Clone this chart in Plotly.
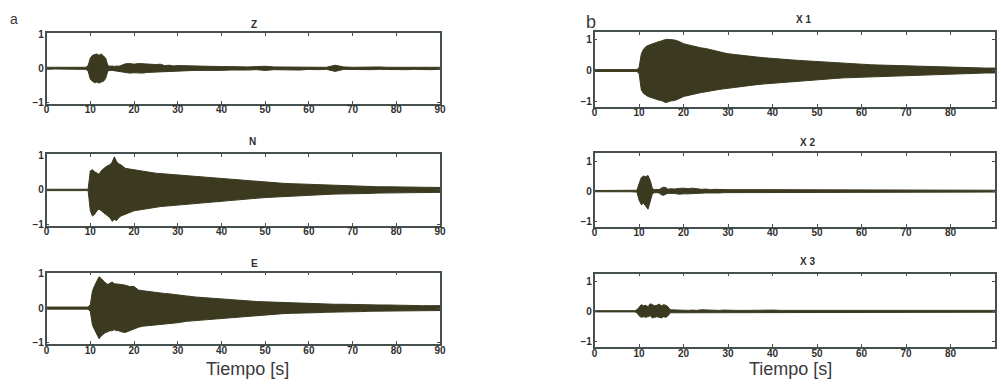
import plotly.graph_objects as go

# ---------------- data (envelopes) ----------------
time_s = [0, 2, 4, 6, 8,
          9, 9.5, 10, 10.5, 11,
          11.5, 12, 12.5, 13, 13.5,
          14, 14.5, 15, 15.5, 16,
          16.5, 17, 18, 19, 20,
          21, 22, 23, 24, 25,
          26, 27, 28, 29, 30,
          32, 34, 36, 38, 40,
          42, 44, 46, 48, 50,
          52, 54, 56, 58, 60,
          62, 64, 66, 68, 70,
          72, 74, 76, 78, 80,
          82, 84, 86, 88, 90]

z_top = [0.03, 0.03, 0.02, 0.03, 0.02,
         0.03, 0.08, 0.30, 0.38, 0.40,
         0.42, 0.38, 0.42, 0.36, 0.30,
         0.08, 0.06, 0.07, 0.05, 0.07,
         0.06, 0.08, 0.13, 0.14, 0.12,
         0.14, 0.13, 0.12, 0.13, 0.11,
         0.12, 0.08, 0.09, 0.07, 0.08,
         0.07, 0.06, 0.07, 0.06, 0.05,
         0.05, 0.04, 0.04, 0.05, 0.06,
         0.04, 0.04, 0.03, 0.05, 0.03,
         0.04, 0.03, 0.09, 0.04, 0.03,
         0.04, 0.03, 0.04, 0.03, 0.04,
         0.03, 0.03, 0.04, 0.03, 0.03]
z_bot = [-0.03, -0.02, -0.03, -0.02, -0.03,
         -0.03, -0.08, -0.32, -0.38, -0.42,
         -0.40, -0.43, -0.40, -0.38, -0.30,
         -0.08, -0.06, -0.06, -0.07, -0.06,
         -0.07, -0.08, -0.12, -0.14, -0.13,
         -0.13, -0.14, -0.12, -0.12, -0.11,
         -0.11, -0.09, -0.08, -0.08, -0.07,
         -0.07, -0.06, -0.06, -0.05, -0.06,
         -0.05, -0.04, -0.05, -0.04, -0.06,
         -0.04, -0.03, -0.04, -0.05, -0.03,
         -0.04, -0.03, -0.09, -0.03, -0.04,
         -0.03, -0.04, -0.03, -0.04, -0.03,
         -0.04, -0.03, -0.03, -0.04, -0.03]

n_top = [0.02, 0.02, 0.02, 0.02, 0.02,
         0.02, 0.02, 0.55, 0.58, 0.52,
         0.48, 0.45, 0.55, 0.62, 0.66,
         0.70, 0.72, 0.80, 0.95, 0.82,
         0.75, 0.72, 0.62, 0.60, 0.58,
         0.55, 0.52, 0.50, 0.50, 0.48,
         0.47, 0.46, 0.44, 0.45, 0.43,
         0.40, 0.38, 0.36, 0.34, 0.32,
         0.30, 0.28, 0.26, 0.24, 0.22,
         0.21, 0.19, 0.18, 0.17, 0.15,
         0.14, 0.13, 0.12, 0.12, 0.11,
         0.10, 0.10, 0.09, 0.09, 0.09,
         0.08, 0.08, 0.08, 0.07, 0.07]
n_bot = [-0.02, -0.02, -0.02, -0.02, -0.02,
         -0.02, -0.02, -0.60, -0.75, -0.70,
         -0.60, -0.55, -0.60, -0.65, -0.70,
         -0.75, -0.80, -0.90, -0.85, -0.88,
         -0.80, -0.75, -0.70, -0.65, -0.60,
         -0.58, -0.55, -0.55, -0.52, -0.50,
         -0.48, -0.47, -0.45, -0.44, -0.43,
         -0.40, -0.38, -0.36, -0.34, -0.32,
         -0.30, -0.28, -0.26, -0.24, -0.22,
         -0.20, -0.19, -0.18, -0.16, -0.15,
         -0.14, -0.13, -0.12, -0.11, -0.11,
         -0.10, -0.10, -0.09, -0.09, -0.08,
         -0.08, -0.08, -0.07, -0.07, -0.07]

e_top = [0.03, 0.03, 0.03, 0.03, 0.03,
         0.03, 0.03, 0.10, 0.50, 0.65,
         0.80, 0.90, 0.85, 0.78, 0.72,
         0.68, 0.72, 0.75, 0.70, 0.70,
         0.68, 0.68, 0.66, 0.62, 0.62,
         0.52, 0.50, 0.48, 0.47, 0.45,
         0.44, 0.42, 0.41, 0.40, 0.38,
         0.35, 0.32, 0.30, 0.27, 0.26,
         0.24, 0.22, 0.20, 0.19, 0.18,
         0.17, 0.15, 0.14, 0.14, 0.13,
         0.12, 0.12, 0.11, 0.11, 0.10,
         0.10, 0.09, 0.09, 0.09, 0.08,
         0.08, 0.08, 0.07, 0.07, 0.07]
e_bot = [-0.03, -0.03, -0.03, -0.03, -0.03,
         -0.03, -0.03, -0.10, -0.50, -0.60,
         -0.75, -0.88, -0.80, -0.75, -0.70,
         -0.68, -0.65, -0.65, -0.62, -0.65,
         -0.65, -0.68, -0.70, -0.66, -0.60,
         -0.55, -0.52, -0.50, -0.50, -0.48,
         -0.47, -0.45, -0.44, -0.43, -0.42,
         -0.38, -0.35, -0.32, -0.30, -0.28,
         -0.26, -0.24, -0.22, -0.20, -0.19,
         -0.18, -0.16, -0.15, -0.14, -0.13,
         -0.13, -0.12, -0.11, -0.11, -0.10,
         -0.10, -0.09, -0.09, -0.09, -0.08,
         -0.08, -0.08, -0.07, -0.07, -0.07]

x1_top = [0.03, 0.03, 0.02, 0.03, 0.03,
          0.03, 0.03, 0.10, 0.55, 0.70,
          0.78, 0.82, 0.85, 0.88, 0.90,
          0.92, 0.95, 0.97, 1.00, 1.02,
          1.02, 1.02, 1.00, 0.95, 0.88,
          0.84, 0.80, 0.77, 0.74, 0.72,
          0.68, 0.65, 0.62, 0.58, 0.55,
          0.51, 0.48, 0.45, 0.42, 0.39,
          0.37, 0.35, 0.33, 0.31, 0.29,
          0.27, 0.25, 0.23, 0.21, 0.20,
          0.19, 0.18, 0.17, 0.16, 0.15,
          0.14, 0.13, 0.12, 0.11, 0.10,
          0.10, 0.09, 0.09, 0.08, 0.08]
x1_bot = [-0.03, -0.02, -0.03, -0.03, -0.02,
          -0.03, -0.03, -0.10, -0.64, -0.75,
          -0.80, -0.85, -0.88, -0.90, -0.93,
          -0.95, -0.97, -0.98, -1.02, -1.05,
          -1.02, -1.00, -0.98, -0.92, -0.85,
          -0.82, -0.78, -0.75, -0.72, -0.70,
          -0.67, -0.64, -0.62, -0.60, -0.57,
          -0.54, -0.50, -0.47, -0.44, -0.42,
          -0.39, -0.37, -0.35, -0.32, -0.30,
          -0.28, -0.26, -0.24, -0.22, -0.21,
          -0.20, -0.18, -0.17, -0.16, -0.15,
          -0.14, -0.13, -0.12, -0.11, -0.10,
          -0.10, -0.09, -0.09, -0.08, -0.08]

x2_top = [0.02, 0.02, 0.02, 0.02, 0.02,
          0.02, 0.03, 0.25, 0.45, 0.50,
          0.48, 0.52, 0.35, 0.08, 0.05,
          0.06, 0.05, 0.10, 0.13, 0.12,
          0.06, 0.08, 0.07, 0.09, 0.10,
          0.08, 0.10, 0.08, 0.06, 0.07,
          0.05, 0.06, 0.05, 0.06, 0.05,
          0.05, 0.04, 0.05, 0.05, 0.05,
          0.04, 0.04, 0.05, 0.04, 0.04,
          0.03, 0.04, 0.03, 0.04, 0.03,
          0.03, 0.03, 0.04, 0.03, 0.03,
          0.03, 0.03, 0.03, 0.03, 0.04,
          0.03, 0.03, 0.03, 0.03, 0.03]
x2_bot = [-0.02, -0.02, -0.02, -0.02, -0.02,
          -0.02, -0.03, -0.30, -0.45, -0.40,
          -0.50, -0.60, -0.35, -0.08, -0.05,
          -0.05, -0.06, -0.12, -0.14, -0.10,
          -0.07, -0.08, -0.08, -0.10, -0.09,
          -0.09, -0.10, -0.07, -0.07, -0.06,
          -0.06, -0.05, -0.06, -0.05, -0.05,
          -0.05, -0.05, -0.04, -0.05, -0.04,
          -0.04, -0.05, -0.04, -0.04, -0.04,
          -0.04, -0.03, -0.04, -0.03, -0.03,
          -0.03, -0.04, -0.03, -0.03, -0.04,
          -0.03, -0.03, -0.04, -0.03, -0.03,
          -0.03, -0.03, -0.03, -0.03, -0.03]

x3_top = [0.02, 0.02, 0.02, 0.02, 0.02,
          0.02, 0.05, 0.15, 0.22, 0.18,
          0.20, 0.15, 0.25, 0.22, 0.18,
          0.20, 0.24, 0.18, 0.22, 0.20,
          0.15, 0.05, 0.04, 0.04, 0.03,
          0.03, 0.04, 0.03, 0.05, 0.04,
          0.05, 0.04, 0.03, 0.04, 0.03,
          0.03, 0.03, 0.04, 0.03, 0.04,
          0.03, 0.03, 0.03, 0.03, 0.04,
          0.03, 0.03, 0.03, 0.03, 0.03,
          0.03, 0.03, 0.04, 0.03, 0.03,
          0.03, 0.04, 0.04, 0.03, 0.03,
          0.03, 0.03, 0.03, 0.03, 0.03]
x3_bot = [-0.02, -0.02, -0.02, -0.02, -0.02,
          -0.02, -0.05, -0.15, -0.20, -0.18,
          -0.20, -0.18, -0.15, -0.22, -0.20,
          -0.18, -0.20, -0.22, -0.18, -0.20,
          -0.15, -0.05, -0.04, -0.03, -0.03,
          -0.04, -0.03, -0.04, -0.04, -0.05,
          -0.04, -0.03, -0.04, -0.03, -0.03,
          -0.03, -0.04, -0.03, -0.03, -0.04,
          -0.03, -0.03, -0.03, -0.04, -0.03,
          -0.03, -0.03, -0.03, -0.03, -0.03,
          -0.03, -0.03, -0.04, -0.03, -0.03,
          -0.03, -0.04, -0.03, -0.03, -0.03,
          -0.03, -0.03, -0.03, -0.03, -0.03]

panel_titles = ["Z", "N", "E", "X 1", "X 2", "X 3"]
x_ticks = [0, 10, 20, 30, 40, 50, 60, 70, 80, 90]
y_ticks = [-1, 0, 1]
x_label = "Tiempo [s]"
panel_letters = ["a", "b"]

# ---------------- style ----------------
W, H = 1001, 387
WAVE = "#3b3a20"
AX = "#46514f"
TXT = "#2f2f2f"
FONT = "Liberation Sans, Arial, sans-serif"

def px_x(p):
    return p / W

def px_y(p):
    return 1 - p / H

# panel boxes in pixels: (left, right, top, bottom)
boxes = [(44, 441, 29, 101), (44, 441, 153, 226), (44, 441, 274, 347),
         (597, 1001, 28, 104), (597, 1001, 152, 227), (597, 1001, 275, 350)]
y_ranges = [[-1.03, 1.02]] * 3 + [[-1.18, 1.25]] * 3
title_pos = [(253, 20), (252, 140), (254, 265), (808, 15), (812, 141), (812, 263)]

envelopes = [(z_top, z_bot), (n_top, n_bot), (e_top, e_bot),
             (x1_top, x1_bot), (x2_top, x2_bot), (x3_top, x3_bot)]

fig = go.Figure()
layout = dict(width=W, height=H, margin=dict(l=0, r=0, t=0, b=0),
              paper_bgcolor="white", plot_bgcolor="white", showlegend=False,
              font=dict(family=FONT, color=TXT))
annotations = []

for i, ((top, bot), box, yr, title, tp) in enumerate(
        zip(envelopes, boxes, y_ranges, panel_titles, title_pos), start=1):
    xs = time_s + time_s[::-1]
    ys = top + bot[::-1]
    fig.add_trace(go.Scatter(x=xs, y=ys, mode="lines", fill="toself",
                             fillcolor=WAVE, line=dict(color=WAVE, width=1),
                             xaxis=f"x{i}", yaxis=f"y{i}", hoverinfo="skip"))
    l, r, t, b = box
    common = dict(showgrid=False, zeroline=False, showline=True, linecolor=AX,
                  linewidth=1.5, mirror="allticks", ticks="inside", ticklen=3,
                  tickcolor=AX, tickwidth=1,
                  tickfont=dict(family=FONT, size=10, color=TXT, weight="bold"))
    layout[f"xaxis{i}"] = dict(common, domain=[px_x(l), px_x(r)], range=[0, 90],
                               tickvals=x_ticks, anchor=f"y{i}",
                               ticklabelstandoff=-4)
    layout[f"yaxis{i}"] = dict(common, domain=[px_y(b), px_y(t)], range=yr,
                               tickvals=y_ticks, anchor=f"x{i}",
                               ticklabelstandoff=-1)
    annotations.append(dict(text=title, x=px_x(tp[0]), y=px_y(tp[1]),
                            xref="paper", yref="paper", showarrow=False,
                            xanchor="center", yanchor="middle",
                            font=dict(family=FONT, size=10, color=TXT, weight="bold")))

# x-axis labels
for cx in (247, 795):
    annotations.append(dict(text=x_label, x=px_x(cx), y=px_y(373),
                            xref="paper", yref="paper", showarrow=False,
                            xanchor="center", yanchor="middle",
                            font=dict(family=FONT, size=18, color="#3a3a3a")))
# panel letters
for letter, (lx, ly, sz) in zip(panel_letters, [(11, 14, 14), (593, 17, 18)]):
    annotations.append(dict(text=letter, x=px_x(lx), y=px_y(ly),
                            xref="paper", yref="paper", showarrow=False,
                            xanchor="center", yanchor="middle",
                            font=dict(family=FONT, size=sz, color="#3a3a3a")))

layout["annotations"] = annotations
fig.update_layout(**layout)

fig.write_html("out.html",
               config={"displayModeBar": False},
               post_script="document.body.style.margin='0';document.body.style.overflow='hidden';")
